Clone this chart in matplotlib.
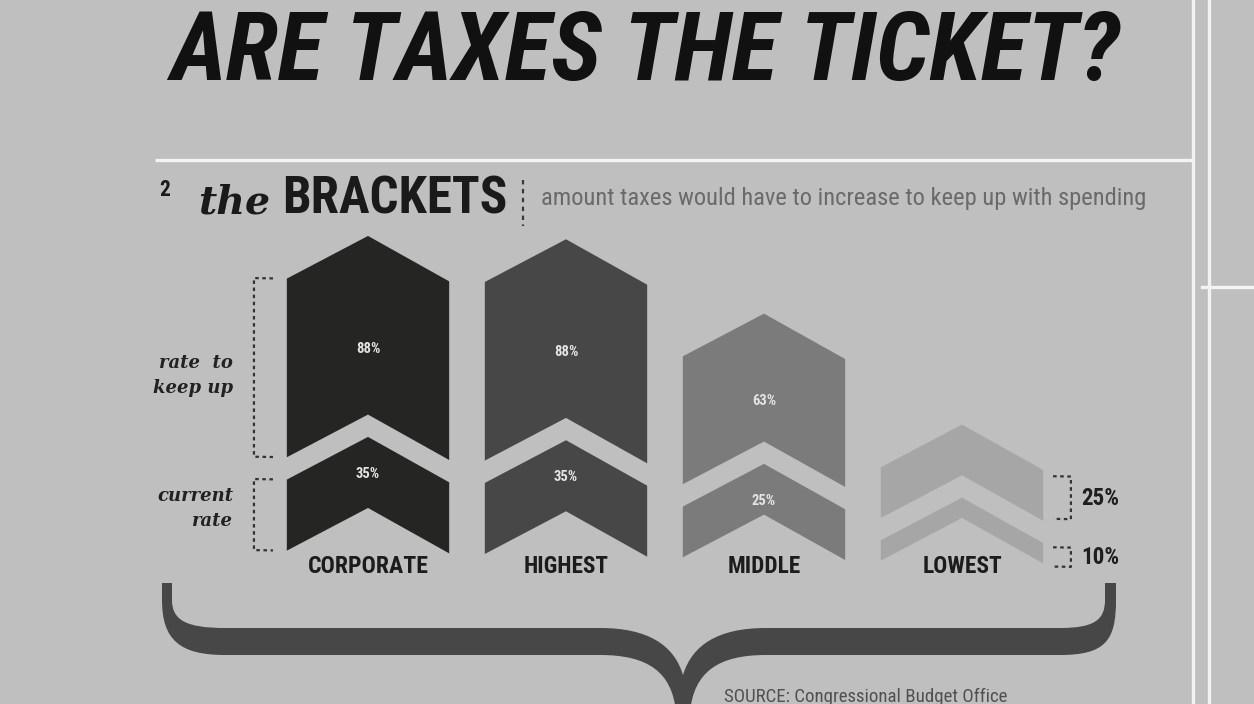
import math
import matplotlib
matplotlib.use("Agg")
import matplotlib.pyplot as plt
from matplotlib import font_manager as fm
from matplotlib.patches import Polygon, PathPatch
from matplotlib.path import Path
from matplotlib.transforms import Affine2D

# ---------------- data ----------------
categories = ["CORPORATE", "HIGHEST", "MIDDLE", "LOWEST"]
rate_to_keep_up = [88, 88, 63, 25]
current_rate = [35, 35, 25, 10]
pct_labels_keep = ["88%", "88%", "63%", "25%"]
pct_labels_curr = ["35%", "35%", "25%", "10%"]
title = "ARE TAXES THE TICKET?"
subtitle = "amount taxes would have to increase to keep up with spending"
source = "SOURCE: Congressional Budget Office"

# ---------------- style ----------------
BG = "#bfbfbf"
bar_colors = ["#252523", "#474747", "#7b7b7b", "#a6a6a6"]
BRACE = "#474747"
LINE_W = "#f3f3f3"

avail = {f.name for f in fm.fontManager.ttflist}
COND = next((n for n in ["Liberation Sans Narrow", "Roboto Condensed",
                         "Open Sans Condensed", "Noto Sans Condensed"] if n in avail),
            "Liberation Sans")
SERIF = "DejaVu Serif"

W, H = 1254, 704
fig = plt.figure(figsize=(W / 100, H / 100), dpi=100, facecolor=BG)
ax0 = fig.add_axes([0, 0, 1, 1], facecolor="none")
ax0.set_xlim(0, W)
ax0.set_ylim(H, 0)
ax0.axis("off")

renderer = fig.canvas.get_renderer()


def fit(t, width_px):
    bb = t.get_window_extent(renderer=renderer)
    t.set_fontsize(t.get_fontsize() * width_px / bb.width)
    return t


# ---------------- decorations ----------------
ax0.plot([155, 1193], [160, 160], color=LINE_W, lw=2.4, solid_capstyle="butt")
ax0.plot([1193, 1193], [0, H], color=LINE_W, lw=2.4)
ax0.plot([1209, 1209], [0, H], color=LINE_W, lw=2.4)
ax0.plot([1202, W], [287, 287], color=LINE_W, lw=2.4)

t = ax0.text(645, 80, title, fontsize=70, family=COND, weight="bold",
             style="italic", color="#111111", ha="center", va="baseline")
fit(t, 950)

ax0.text(165, 190, "2", fontsize=15.5, family=COND, weight="bold",
         color="#1a1a1a", ha="center", va="center")
t = ax0.text(198, 213, "the", fontsize=30, family=SERIF, weight="bold",
             style="italic", color="#1a1a1a", ha="left", va="baseline")
fit(t, 72)
t = ax0.text(282, 214, "BRACKETS", fontsize=30, family=COND, weight="bold",
             color="#1a1a1a", ha="left", va="baseline")
fit(t, 225)
ax0.plot([523, 523], [180, 226], color="#3a3a3a", lw=1.6, ls=(0, (2, 2)))
t = ax0.text(541, 205, subtitle, fontsize=15, family=COND, color="#6a6a6a",
             ha="left", va="baseline")
fit(t, 606)
t = ax0.text(724, 688, source, fontsize=11, family=COND, color="#505050",
             ha="left", va="top")
fit(t, 282)

# curly brace
verts = [
    (162, 583), (162, 600),
    (162, 640), (180, 655), (225, 655),
    (600, 655),
    (648, 655), (672, 672), (676, 712),
    (690, 712),
    (694, 672), (718, 655), (766, 655),
    (1060, 655),
    (1106, 655), (1116, 640), (1116, 600),
    (1116, 583), (1105, 583), (1105, 600),
    (1105, 620), (1094, 628), (1060, 628),
    (766, 628),
    (718, 628), (692, 645), (683, 675),
    (674, 645), (648, 628), (600, 628),
    (225, 628),
    (186, 628), (172, 620), (172, 600),
    (172, 583), (162, 583),
]
codes = [Path.MOVETO, Path.LINETO,
         Path.CURVE4, Path.CURVE4, Path.CURVE4,
         Path.LINETO,
         Path.CURVE4, Path.CURVE4, Path.CURVE4,
         Path.LINETO,
         Path.CURVE4, Path.CURVE4, Path.CURVE4,
         Path.LINETO,
         Path.CURVE4, Path.CURVE4, Path.CURVE4,
         Path.LINETO, Path.LINETO, Path.LINETO,
         Path.CURVE4, Path.CURVE4, Path.CURVE4,
         Path.LINETO,
         Path.CURVE4, Path.CURVE4, Path.CURVE4,
         Path.CURVE4, Path.CURVE4, Path.CURVE4,
         Path.LINETO,
         Path.CURVE4, Path.CURVE4, Path.CURVE4,
         Path.LINETO, Path.CLOSEPOLY]
ax0.add_patch(PathPatch(Path(verts, codes), facecolor=BRACE, edgecolor="none"))

# ---------------- chevron chart ----------------
PX_PER_UNIT = 2.03
BASE_PX = 557
YMAX = 160
ax = fig.add_axes([269 / W, (H - BASE_PX) / H, 792 / W, YMAX * PX_PER_UNIT / H],
                  facecolor="none")
ax.set_xlim(-0.5, 3.5)
ax.set_ylim(0, YMAX)
ax.axis("off")

# slight perspective tilt of the photographed page (right side sits lower)
X0 = 665
SK = Affine2D().translate(-X0, 0).skew(0, -math.atan(0.0168)).translate(X0, 0)
T = ax.transData + SK

GAP = 11.0
DEPTH = 21.7
HW = 0.41


def chevron(xc, y0, y1):
    return [(xc - HW, y0), (xc, y0 + DEPTH), (xc + HW, y0),
            (xc + HW, y1), (xc, y1 + DEPTH), (xc - HW, y1)]


cat_texts = []
for i, (cat, keep, cur, col) in enumerate(zip(categories, rate_to_keep_up,
                                               current_rate, bar_colors)):
    lo0, lo1 = 0, cur
    up0, up1 = cur + GAP, cur + GAP + keep
    ax.add_patch(Polygon(chevron(i, lo0, lo1), closed=True, facecolor=col,
                         edgecolor="none", transform=T, clip_on=False))
    ax.add_patch(Polygon(chevron(i, up0, up1), closed=True, facecolor=col,
                         edgecolor="none", transform=T, clip_on=False))
    cat_texts.append(ax.text(i, -4.8, cat, fontsize=14, family=COND,
                             weight="bold", color="#1c1c1c", ha="center",
                             va="center"))
    if i < len(categories) - 1:
        ax.text(i, (up0 + up1) / 2 + 10, pct_labels_keep[i], fontsize=10.5,
                family=COND, weight="bold", color="#e4e4e4", ha="center",
                va="center", transform=T)
        ax.text(i, cur + 3.5, pct_labels_curr[i], fontsize=10.5, family=COND,
                weight="bold", color="#e4e4e4", ha="center", va="center",
                transform=T)

cat_widths = [121, 85, 73, 80]
for t, w in zip(cat_texts, cat_widths):
    fit(t, w)

dash = (0, (1.6, 1.6))
# left brackets (corporate)
c0, k0 = current_rate[0], rate_to_keep_up[0]
for (y0, y1) in [(c0 + GAP, c0 + GAP + k0), (0, c0)]:
    ax.plot([-0.48, -0.576, -0.576, -0.48], [y1, y1, y0, y0], color="#333333",
            lw=1.6, ls=dash, clip_on=False, transform=T)
t1 = ax.text(-0.68, (2 * c0 + 2 * GAP + k0) / 2 - 4, "rate  to\nkeep up",
             fontsize=13, family=SERIF, weight="bold", style="italic",
             color="#222222", ha="right", va="center", linespacing=1.5,
             multialignment="right", transform=T)
t2 = ax.text(-0.68, c0 / 2 + 3, "current\nrate", fontsize=13, family=SERIF,
             weight="bold", style="italic", color="#222222", ha="right",
             va="center", linespacing=1.5, multialignment="right", transform=T)
fit(t1, 80)
t2.set_fontsize(t1.get_fontsize())

# right brackets (lowest)
c3, k3 = current_rate[3], rate_to_keep_up[3]
for (y0, y1), lab in [((c3 + GAP + 1, c3 + GAP + k3 - 3), pct_labels_keep[3]),
                      ((-1.5, c3 - 2), pct_labels_curr[3])]:
    ax.plot([3.46, 3.55, 3.55, 3.46], [y1, y1, y0, y0], color="#333333",
            lw=1.6, ls=dash, clip_on=False, transform=T)
    t = ax.text(3.6, (y0 + y1) / 2, lab, fontsize=13, family=COND,
                weight="bold", color="#1f1f1f", ha="left", va="center",
                transform=T)
    fit(t, 38)

fig.savefig("out.png", dpi=100, facecolor=BG)
